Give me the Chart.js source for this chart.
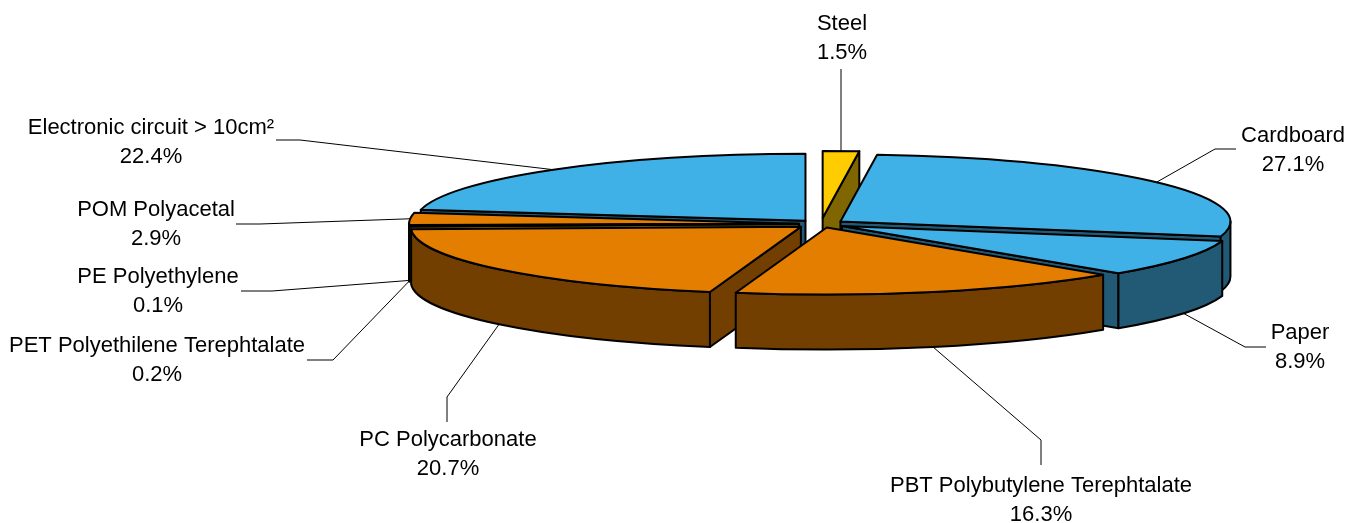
<!DOCTYPE html>
<html>
<head>
<meta charset="utf-8">
<style>
  html, body { margin: 0; padding: 0; background: #fff; }
  #wrap { width: 1359px; height: 523px; }
</style>
<script src="https://cdn.jsdelivr.net/npm/chart.js@4"></script>
</head>
<body>
<div id="wrap"><canvas id="grafico"></canvas></div>
<script>
// Values, clockwise from 12 o'clock
const materials = ['Steel', 'Cardboard', 'Paper', 'PBT Polybutylene Terephtalate', 'PC Polycarbonate',
    'PET Polyethilene Terephtalate', 'PE Polyethylene', 'POM Polyacetal', 'Electronic circuit > 10cm²'];
const shares = [1.5, 27.1, 8.9, 16.3, 20.7, 0.2, 0.1, 2.9, 22.4];

const topColors = ['#ffcc00', '#40b1e6', '#40b1e6', '#e37e00', '#e37e00', '#ffcc00', '#ffcc00', '#e37e00', '#40b1e6'];
const wallColors = ['#806600', '#225a76', '#225a76', '#723f00', '#723f00', '#806600', '#806600', '#723f00', '#225a76'];
const explode = [35, 24, 24, 21, 26, 22, 22, 22, 24];

// the tilt of the pie
const squash = 0.172;
const depth = 55;

// where each label goes: text centre, elbow points of the leader line
const labelLayout = [
    { x: 842, y: 24, leader: [[841, 69]] },
    { x: 1293, y: 136, leader: [[1215, 149], [1236, 149]] },
    { x: 1300, y: 333, leader: [[1245, 347], [1266, 347]] },
    { x: 1041, y: 486, leader: [[1041, 440], [1041, 465]] },
    { x: 448, y: 440, leader: [[447, 397], [447, 422]] },
    { x: 157, y: 346, leader: [[333, 360], [307, 360]] },
    { x: 158, y: 277, leader: [[272, 291], [241, 291]] },
    { x: 156, y: 210, leader: [[260, 224], [236, 224]] },
    { x: 151, y: 128, leader: [[300, 140], [276, 140]] }
];

function apexOf(arc, i) {
    const mid = (arc.startAngle + arc.endAngle) / 2;
    return {
        x: arc.x + Math.cos(mid) * explode[i],
        y: arc.y + Math.sin(mid) * explode[i] * squash
    };
}

function drawSlice(chart, arc, i) {
    const ctx = chart.ctx;
    const p = apexOf(arc, i);
    const rx = arc.outerRadius;
    const ry = rx * squash;
    const a0 = arc.startAngle;
    const a1 = arc.endAngle;

    ctx.save();
    ctx.lineWidth = 2;
    ctx.lineJoin = 'round';
    ctx.strokeStyle = '#000';
    ctx.fillStyle = wallColors[i];

    // cut faces turned towards the viewer
    const cuts = [];
    if (Math.cos(a0) < 0) cuts.push(a0);
    if (Math.cos(a1) > 0) cuts.push(a1);
    for (const a of cuts) {
        const ex = p.x + Math.cos(a) * rx;
        const ey = p.y + Math.sin(a) * ry;
        ctx.beginPath();
        ctx.moveTo(p.x, p.y);
        ctx.lineTo(ex, ey);
        ctx.lineTo(ex, ey + depth);
        ctx.lineTo(p.x, p.y + depth);
        ctx.closePath();
        ctx.fill();
        ctx.stroke();
    }

    // outer wall, only the front half of the rim
    const w0 = Math.max(a0, 0);
    const w1 = Math.min(a1, Math.PI);
    if (w1 > w0) {
        ctx.beginPath();
        ctx.ellipse(p.x, p.y, rx, ry, 0, w0, w1);
        ctx.ellipse(p.x, p.y + depth, rx, ry, 0, w1, w0, true);
        ctx.closePath();
        ctx.fill();
        ctx.stroke();
    }

    // top face: the library's arc, flattened
    ctx.save();
    ctx.translate(p.x, p.y);
    ctx.scale(1, squash);
    ctx.translate(-arc.x, -arc.y);
    arc.draw(ctx);
    ctx.restore();

    ctx.beginPath();
    ctx.moveTo(p.x, p.y);
    ctx.ellipse(p.x, p.y, rx, ry, 0, a0, a1);
    ctx.closePath();
    ctx.stroke();
    ctx.restore();
}

function drawLabels(chart, arcs) {
    const ctx = chart.ctx;
    ctx.save();
    ctx.font = '22px "Liberation Sans"';
    ctx.textAlign = 'center';
    ctx.textBaseline = 'middle';
    ctx.fillStyle = '#000';
    ctx.strokeStyle = '#000';
    ctx.lineWidth = 1;
    arcs.forEach((arc, i) => {
        const layout = labelLayout[i];
        const p = apexOf(arc, i);
        const mid = (arc.startAngle + arc.endAngle) / 2;
        const ax = p.x + Math.cos(mid) * arc.outerRadius;
        let ay = p.y + Math.sin(mid) * arc.outerRadius * squash;
        if (Math.sin(mid) > 0) ay += depth;

        ctx.beginPath();
        ctx.moveTo(ax, ay);
        for (const pt of layout.leader) ctx.lineTo(pt[0], pt[1]);
        ctx.stroke();

        ctx.fillText(materials[i], layout.x, layout.y);
        ctx.fillText(shares[i].toFixed(1) + '%', layout.x, layout.y + 29);
    });
    ctx.restore();
}

const pie3d = {
    id: 'pie3d',
    beforeDatasetsDraw(chart) {
        const arcs = chart.getDatasetMeta(0).data;
        // back slices first
        const order = arcs.map((a, i) => i).sort((a, b) => {
            const midA = (arcs[a].startAngle + arcs[a].endAngle) / 2;
            const midB = (arcs[b].startAngle + arcs[b].endAngle) / 2;
            return Math.sin(midA) - Math.sin(midB);
        });
        for (const i of order) drawSlice(chart, arcs[i], i);
        drawLabels(chart, arcs);
        return false;
    }
};

new Chart(document.getElementById('grafico'), {
    type: 'pie',
    data: {
        labels: materials,
        datasets: [{
            data: shares,
            backgroundColor: topColors,
            borderWidth: 0
        }]
    },
    options: {
        responsive: true,
        maintainAspectRatio: false,
        animation: false,
        radius: 390,
        layout: { padding: { left: 283, bottom: 75 } },
        plugins: {
            legend: { display: false },
            tooltip: { enabled: false }
        }
    },
    plugins: [pie3d]
});
</script>
</body>
</html>
